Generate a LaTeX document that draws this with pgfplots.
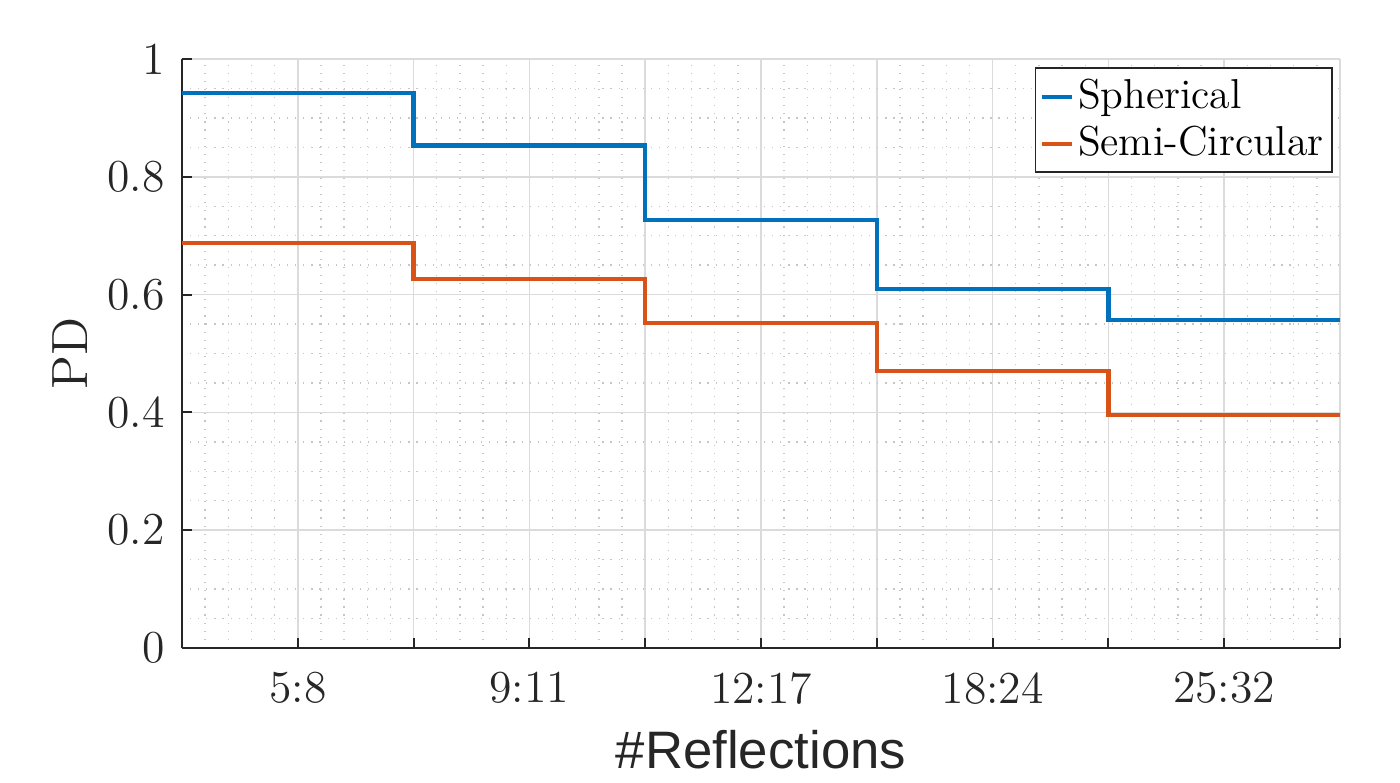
\documentclass[border=0pt]{standalone}
\usepackage{fontspec}
\usepackage{pgfplots}
\pgfplotsset{compat=1.18}
\newfontfamily\helv{Liberation Sans}
\definecolor{mblue}{rgb}{0,0.447,0.741}
\definecolor{morange}{rgb}{0.85,0.325,0.098}
\definecolor{txt}{rgb}{0.15,0.15,0.15}
\begin{document}
\begin{tikzpicture}
\useasboundingbox (-1.82,-1.34) rectangle (12.18,6.48);
\begin{axis}[
    at={(0,0)}, anchor=south west,
    scale only axis, width=11.58cm, height=5.89cm,
    xmin=0.5, xmax=5.5, ymin=0, ymax=1,
    axis x line*=bottom, axis y line*=left,
    axis line style={draw=txt, line width=0.6pt, -},
    xtick={0.5,1,1.5,2,2.5,3,3.5,4,4.5,5,5.5},
    xticklabels={,5:8,,9:11,,12:17,,18:24,,25:32,},
    ytick={0,0.2,0.4,0.6,0.8,1},
    yticklabels={0,0.2,0.4,0.6,0.8,1},
    minor x tick num=4, minor y tick num=3,
    tick align=inside, major tick length=0.1cm, minor tick length=0pt,
    tick style={txt, line width=0.6pt},
    grid=both,
    major grid style={draw=gray!28, line width=0.5pt},
    minor grid style={draw=gray!45, line width=0.4pt, dash pattern=on 0.35pt off 1.95pt},
    tick label style={color=txt, font=\fontsize{13}{15}\selectfont},
    xticklabel style={yshift=-0.12cm},
    yticklabel style={xshift=-0.05cm},
    xlabel={\helv\#Reflections},
    ylabel={PD},
    xlabel style={at={(axis description cs:0.5,-0.173)}, anchor=center, color=txt, font=\fontsize{15}{17}\selectfont},
    ylabel style={at={(axis description cs:-0.0967,0.5)}, anchor=center, color=txt, font=\fontsize{14.5}{17}\selectfont},
    legend style={at={(axis description cs:0.994,0.986)}, anchor=north east,
        draw=txt, line width=0.5pt, fill=white,
        font=\fontsize{11.9}{14}\selectfont, text=black,
        inner sep=1.2pt, row sep=-0.5pt,
        nodes={inner xsep=1.2pt}},
    legend cell align=left,
    legend image code/.code={\draw[#1] (0cm,0cm) -- (0.3cm,0cm);},
]
\addplot[const plot, mblue, line width=1.2pt] coordinates {(0.5,0.942) (1.5,0.853) (2.5,0.727) (3.5,0.610) (4.5,0.557) (5.5,0.557)};
\addplot[const plot, morange, line width=1.2pt] coordinates {(0.5,0.687) (1.5,0.626) (2.5,0.552) (3.5,0.470) (4.5,0.396) (5.5,0.396)};
\legend{Spherical, Semi-Circular}
\end{axis}
\end{tikzpicture}
\end{document}
